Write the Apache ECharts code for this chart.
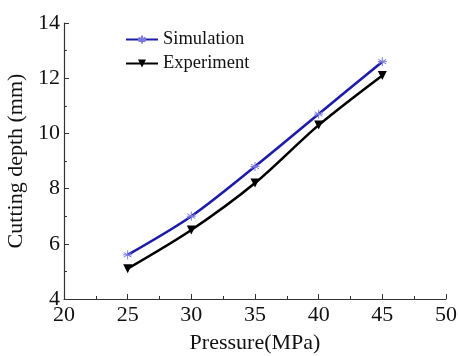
<!DOCTYPE html>
<html><head><meta charset="utf-8">
<script src="https://cdn.jsdelivr.net/npm/echarts@6/dist/echarts.min.js"></script>
<style>html,body{margin:0;padding:0;background:#fff}#c{width:458px;height:356px}</style>
</head><body><div id="c"></div>
<script>
const pressure = [25, 30, 35, 40, 45];
const simulation = [5.6, 7.0, 8.8, 10.7, 12.6];
const experiment = [5.1, 6.5, 8.2, 10.3, 12.1];
const seriesNames = ['Simulation', 'Experiment'];
const xTitle = 'Pressure(MPa)';
const yTitle = 'Cutting depth (mm)';

const font = 'Liberation Serif, Times New Roman, serif';
const chart = echarts.init(document.getElementById('c'));
const star = 'path://M0,-10L0,10M-8.7,-5L8.7,5M-8.7,5L8.7,-5M-10,0L10,0';
chart.setOption({
  animation: false,
  backgroundColor: '#fff',
  grid: {left: 64, right: 12, top: 23, bottom: 57, containLabel: false, outerBoundsMode: 'none'},
  legend: {
    orient: 'vertical', left: 125, top: 30, itemGap: 5, padding: 0,
    itemWidth: 32, itemHeight: 10,
    textStyle: {fontFamily: font, fontSize: 18.5, color: '#111'},
    data: seriesNames
  },
  xAxis: {
    type: 'value', min: 20, max: 50, interval: 5,
    name: xTitle, nameLocation: 'middle', nameGap: 33,
    nameTextStyle: {fontFamily: font, fontSize: 22, color: '#111'},
    axisLine: {lineStyle: {color: '#333', width: 1.2}},
    axisTick: {inside: true, length: 5, lineStyle: {color: '#333'}},
    minorTick: {show: true, splitNumber: 2, length: 3, lineStyle: {color: '#333'}},
    axisLabel: {fontFamily: font, fontSize: 22, color: '#111', margin: 5},
    splitLine: {show: false}
  },
  yAxis: {
    type: 'value', min: 4, max: 14, interval: 2,
    name: yTitle, nameLocation: 'middle', nameGap: 31,
    nameTextStyle: {fontFamily: font, fontSize: 22, color: '#111'},
    axisLine: {show: true, lineStyle: {color: '#333', width: 1.2}},
    axisTick: {show: true, inside: true, length: 5, lineStyle: {color: '#333'}},
    minorTick: {show: true, splitNumber: 2, length: 3, lineStyle: {color: '#333'}},
    axisLabel: {fontFamily: font, fontSize: 22, color: '#111', margin: 4},
    splitLine: {show: false}
  },
  series: [
    {
      name: seriesNames[0], type: 'line', smooth: 0.3,
      data: pressure.map((p, i) => [p, simulation[i]]),
      symbol: star, symbolSize: 9,
      lineStyle: {color: '#1c1ca8', width: 2.6},
      itemStyle: {color: '#1c1ca8', borderColor: '#7a7ae0', borderWidth: 1}
    },
    {
      name: seriesNames[1], type: 'line', smooth: 0.3,
      data: pressure.map((p, i) => [p, experiment[i]]),
      symbol: 'triangle', symbolRotate: 180, symbolSize: 9,
      lineStyle: {color: '#000', width: 2.6},
      itemStyle: {color: '#000'}
    }
  ]
});
</script></body></html>
